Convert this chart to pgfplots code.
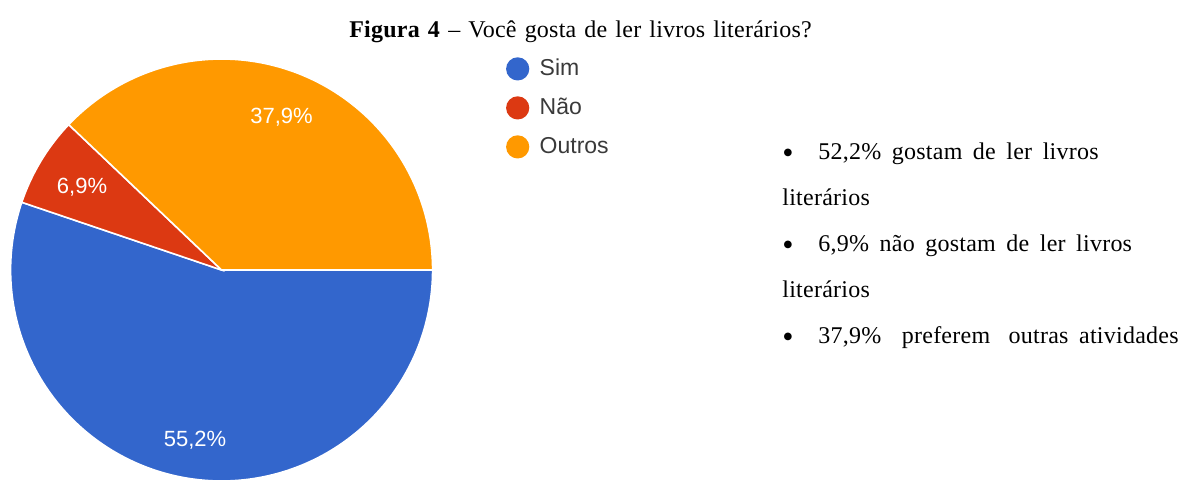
\documentclass[border=0pt]{standalone}
\usepackage{pgfplots}
\usepackage{pgfplotstable}
\pgfplotsset{compat=1.18}
\usepackage{fontspec}
\setmainfont{Liberation Serif}
\newfontfamily\titlefont[LetterSpace=1.0]{Liberation Serif}
\newfontfamily\bodyfont[LetterSpace=1.0,WordSpace=1.3]{Liberation Serif}
\newfontfamily\chartfont{Liberation Sans}
\newfontfamily\symfont{DejaVu Sans}
\definecolor{cSim}{HTML}{3366CC}
\definecolor{cNao}{HTML}{DC3912}
\definecolor{cOutros}{HTML}{FF9900}
\definecolor{legtext}{HTML}{3A3A3A}

\pgfplotstableread{
resposta pct
Sim 55.2
Nao 6.9
Outros 37.9
}\pietable

\begin{document}%
\begin{tikzpicture}[x=0.5pt,y=0.5pt]
\pgfplotstablegetelem{0}{pct}\of\pietable \let\pA\pgfplotsretval
\pgfplotstablegetelem{1}{pct}\of\pietable \let\pB\pgfplotsretval
\pgfplotstablegetelem{2}{pct}\of\pietable \let\pC\pgfplotsretval
\pgfmathsetmacro\aA{-3.6*\pA}
\pgfmathsetmacro\aB{\aA-3.6*\pB}
\pgfmathsetmacro\aC{\aB-3.6*\pC}
\coordinate (piecenter) at (221.6,209);
\begin{axis}[
  at={(piecenter)}, anchor=center,
  hide axis, scale only axis,
  xmin=-1, xmax=1, ymin=-1, ymax=1,
  x=105.5pt, y=105.5pt,
  clip=false,
  legend image code/.code={\fill[#1, draw=none] (5.8pt,0pt) circle (5.8pt); \path[draw=none, fill=none] (0pt,0pt) -- (16.8pt,0pt);},
  legend cell align=left,
  legend style={
    at={(axis description cs:1.1732,1.005)}, anchor=north west,
    draw=none, fill=none, inner sep=0pt,
    font=\chartfont\fontsize{11.5}{13}\selectfont\color{legtext},
    nodes={inner sep=0pt, text height=9pt, text depth=2.6pt},
    row sep=7.9pt,
  },
]
\addlegendimage{fill=cSim, draw=none}
\addlegendimage{fill=cNao, draw=none}
\addlegendimage{fill=cOutros, draw=none}
\addplot[forget plot, fill=cSim, draw=white, line width=0.8pt, domain=\aA:0, samples=150]
  ({cos(x)},{sin(x)}) -- (axis cs:0,0) -- cycle;
\addplot[forget plot, fill=cNao, draw=white, line width=0.8pt, domain=\aB:\aA, samples=30]
  ({cos(x)},{sin(x)}) -- (axis cs:0,0) -- cycle;
\addplot[forget plot, fill=cOutros, draw=white, line width=0.8pt, domain=\aC:\aB, samples=120]
  ({cos(x)},{sin(x)}) -- (axis cs:0,0) -- cycle;
\legend{Sim,Não,Outros}
\end{axis}
% slice labels
\begin{scope}[every node/.style={inner sep=0pt, font=\chartfont\fontsize{11}{13}\selectfont, text=white}]
\node at (195,39) {55,2\%};
\node at (82,292) {6,9\%};
\node at (281.5,362) {37,9\%};
\end{scope}
% title
\node[anchor=base, inner sep=0pt, font=\titlefont\fontsize{12}{14}\selectfont] at (580.5,441.5)
  {\textbf{Figura 4} – Você gosta de ler livros literários?};
% side text
\begin{scope}[every node/.style={anchor=base west, inner sep=0pt, font=\bodyfont\fontsize{12}{14}\selectfont}]
\node[anchor=center, font=\symfont\fontsize{5}{6}\selectfont] at (788,326) {●};
\node at (818,320) {52,2\% gostam de ler livros};
\node at (782,274) {literários};
\node[anchor=center, font=\symfont\fontsize{5}{6}\selectfont] at (788,234) {●};
\node at (818,228) {6,9\% não gostam de ler livros};
\node at (782,182) {literários};
\node[anchor=center, font=\symfont\fontsize{5}{6}\selectfont] at (788,142) {●};
\node at (818,136) {37,9\%\hspace{5pt} preferem\hspace{4pt} outras atividades};
\end{scope}
\pgfresetboundingbox
\path[use as bounding box] (0,0) rectangle (1180,479);
\end{tikzpicture}%
\end{document}
